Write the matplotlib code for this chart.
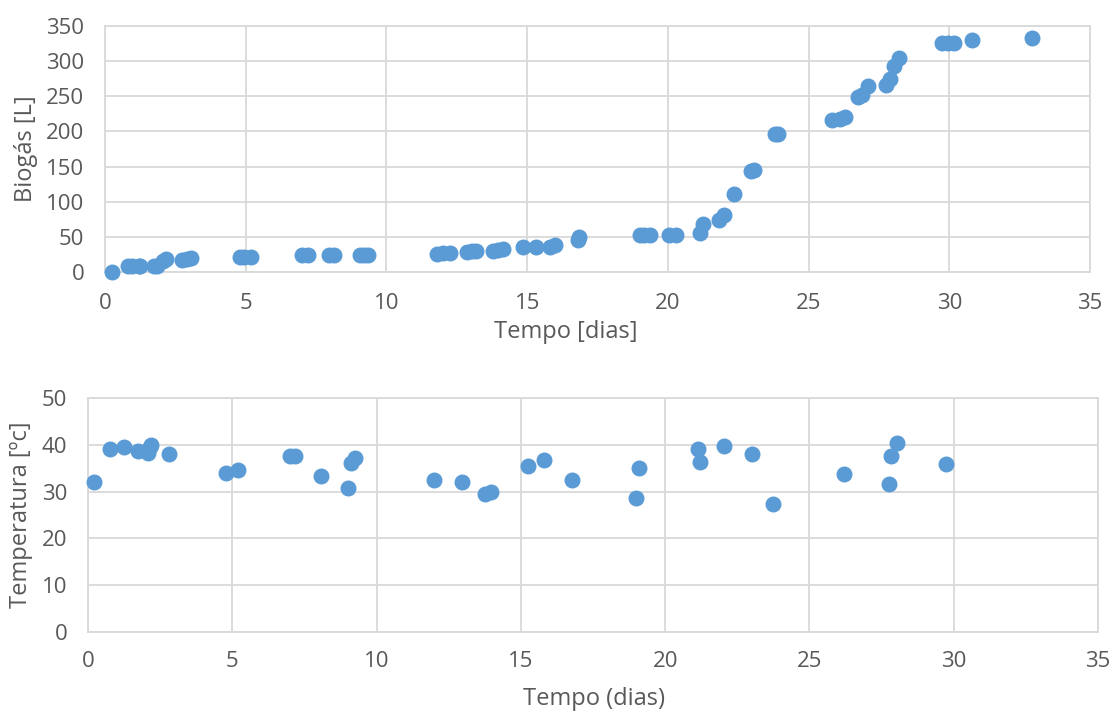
import matplotlib.pyplot as plt

# Biogás acumulado
tempo_bio = [0.25, 0.8, 0.95, 1.2, 1.25, 1.75, 1.85, 2.05, 2.15, 2.75, 2.9, 3.05,
             4.8, 4.95, 5.2, 7.0, 7.2, 7.95, 8.15, 9.05, 9.2, 9.35,
             11.8, 12.0, 12.25, 12.85, 13.05, 13.2, 13.8, 13.95, 14.15, 14.85, 15.3,
             15.8, 16.0, 16.8, 16.85, 19.0, 19.15, 19.35, 20.05, 20.3, 21.15, 21.25,
             21.8, 22.0, 22.35, 22.95, 23.05, 23.8, 23.9, 25.85, 26.1, 26.3, 26.75,
             26.9, 27.1, 27.75, 27.9, 28.05, 28.2, 29.75, 29.95, 30.15, 30.8, 32.95]
biogas = [0, 8, 8, 8, 8, 8, 9, 15, 18, 17, 18, 20,
          22, 22, 22, 24, 24, 24, 24, 24, 24, 24,
          26, 27, 27, 29, 30, 30, 30, 31, 33, 36, 36,
          36, 38, 45, 50, 53, 53, 53, 53, 53, 56, 69,
          74, 81, 111, 143, 145, 196, 197, 216, 218, 221, 249,
          252, 265, 266, 275, 293, 304, 326, 326, 326, 330, 333]

# Temperatura
tempo_temp = [0.22, 0.76, 1.26, 1.72, 2.09, 2.15, 2.2, 2.8, 4.78, 5.2, 6.99, 7.16,
              8.08, 9.0, 9.12, 9.24, 12.0, 12.97, 13.77, 13.97, 15.24, 15.79, 16.77,
              19.08, 18.98, 21.15, 21.21, 22.04, 23.02, 23.75, 26.19, 27.75, 27.84,
              28.02, 29.73]
temperatura = [32.0, 39.2, 39.6, 38.7, 38.3, 39.6, 40.0, 38.0, 34.0, 34.6, 37.6, 37.6,
               33.3, 30.7, 36.2, 37.1, 32.5, 32.0, 29.4, 30.0, 35.5, 36.7, 32.5,
               35.0, 28.6, 39.2, 36.3, 39.7, 38.0, 27.3, 33.7, 31.6, 37.6,
               40.3, 35.9]

azul = '#5B9BD5'
cinza = '#D9D9D9'
texto = '#595959'
plt.rcParams['font.family'] = ['Open Sans', 'DejaVu Sans']

W, H = 1114, 713
fig = plt.figure(figsize=(W / 100, H / 100), dpi=100)

def px_axes(x0, y0, x1, y1):
    return fig.add_axes([x0 / W, 1 - y1 / H, (x1 - x0) / W, (y1 - y0) / H])

ax1 = px_axes(105, 26, 1090, 272)
ax2 = px_axes(88, 398, 1098, 632)

for ax in (ax1, ax2):
    ax.grid(True, color=cinza, linewidth=1.3)
    ax.set_axisbelow(True)
    for s in ax.spines.values():
        s.set_color(cinza)
        s.set_linewidth(1.3)
    ax.tick_params(length=0, labelsize=16, labelcolor=texto)
    ax.set_xlim(0, 35)
    ax.set_xticks(range(0, 36, 5))

ax1.scatter(tempo_bio, biogas, s=110, color=azul, zorder=3, clip_on=False)
ax1.set_ylim(0, 350)
ax1.set_yticks(range(0, 351, 50))
ax1.tick_params(axis='x', pad=15)
ax1.tick_params(axis='y', pad=15)

ax2.scatter(tempo_temp, temperatura, s=110, color=azul, zorder=3, clip_on=False)
ax2.set_ylim(0, 50)
ax2.set_yticks(range(0, 51, 10))
ax2.tick_params(axis='x', pad=14)
ax2.tick_params(axis='y', pad=15)

fig.text(566 / W, 1 - 332 / H, 'Tempo [dias]', ha='center', va='center',
         fontsize=17, color=texto)
fig.text(26 / W, 1 - 149 / H, 'Biogás [L]', ha='center', va='center',
         rotation=90, fontsize=17, color=texto)
fig.text(594 / W, 1 - 699 / H, 'Tempo (dias)', ha='center', va='center',
         fontsize=17, color=texto)
fig.text(21 / W, 1 - 515 / H, 'Temperatura [ºc]', ha='center', va='center',
         rotation=90, fontsize=17, color=texto)

fig.savefig('out.png', dpi=100)
